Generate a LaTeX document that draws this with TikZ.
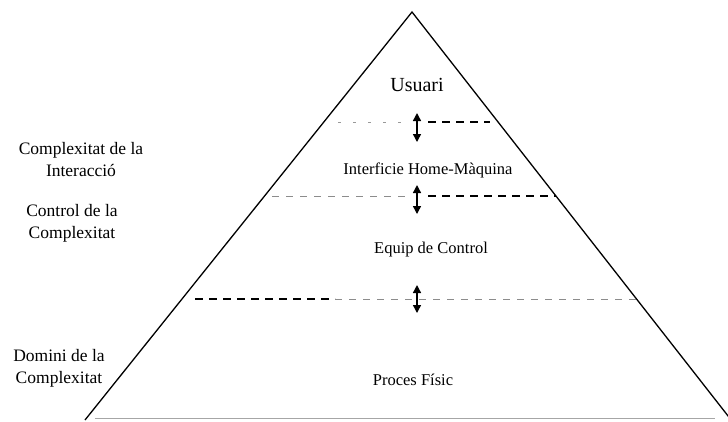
\documentclass[tikz,border=0pt]{standalone}
\usepackage{fontspec}
\setmainfont{Liberation Serif}
\usetikzlibrary{arrows.meta}
\begin{document}
\begin{tikzpicture}[x=1pt,y=-1pt,
  side/.style={line width=1.3pt,black},
  darkdash/.style={line width=1.2pt,black,dash pattern=on 8pt off 6pt},
  greydash/.style={line width=0.7pt,black!45,dash pattern=on 7pt off 7pt},
  dbl/.style={line width=1.4pt,{Triangle[length=8pt,width=8pt]}-{Triangle[length=8pt,width=8pt]}},
  inner/.style={font=\fontsize{16.5}{18}\selectfont,inner sep=0pt},
  left/.style={font=\fontsize{17.5}{22}\selectfont,align=center,inner sep=0pt}]
\useasboundingbox (0,0) rectangle (728,421);
\clip (0,0) rectangle (728,421);
% triangle
\coordinate (apex) at (412,12);
\coordinate (bl) at (85,420);
\coordinate (br) at (732,421);
\draw[line width=0.8pt,black!35] (95,418) -- (715,418);
\draw[side,line join=miter] (bl) -- (apex) -- (br);
% level lines
\coordinate (l1a) at (338,122); \coordinate (l1m) at (410,122); \coordinate (l1n) at (428,122); \coordinate (l1b) at (490,122);
\coordinate (l2a) at (272,196); \coordinate (l2m) at (410,196); \coordinate (l2n) at (428,196); \coordinate (l2b) at (556,196);
\coordinate (l3a) at (195,299); \coordinate (l3m) at (335,299); \coordinate (l3b) at (640,299);
\draw[line width=0.7pt,black!40,dash pattern=on 3pt off 12pt] (l1a) -- (l1m);
\draw[darkdash] (l1n) -- (l1b);
\draw[greydash] (l2a) -- (l2m);
\draw[darkdash] (l2n) -- (l2b);
\draw[darkdash] (l3a) -- (l3m);
\draw[greydash] (l3m) -- (l3b);
% arrows
\coordinate (a1t) at (417,113); \coordinate (a1b) at (417,142);
\coordinate (a2t) at (417,185); \coordinate (a2b) at (417,214);
\coordinate (a3t) at (417,285); \coordinate (a3b) at (417,313);
\draw[dbl] (a1t) -- (a1b);
\draw[dbl] (a2t) -- (a2b);
\draw[dbl] (a3t) -- (a3b);
% labels inside
\node[font=\fontsize{20}{22}\selectfont,inner sep=0pt] (usuari) at (417,85) {Usuari};
\node[inner] (ihm) at (428,170) {Interficie Home-Màquina};
\node[inner] (equip) at (431,250) {Equip de Control};
\node[inner] (proces) at (413,380) {Proces Físic};
% labels left
\node[left] (cint) at (81,160) {Complexitat de la\\Interacció};
\node[left] (ccon) at (72,223) {Control de la\\Complexitat};
\node[left] (cdom) at (59,368) {Domini de la\\Complexitat};
\end{tikzpicture}
\end{document}
